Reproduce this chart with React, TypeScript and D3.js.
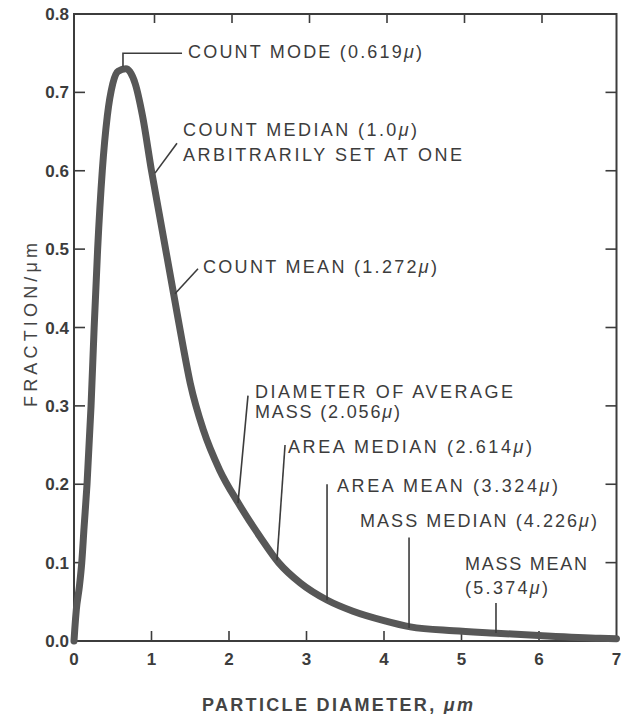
import React, { useRef, useEffect } from 'react';
import * as d3 from 'd3';

// curve: particle diameter (um) vs fraction/um
const diameters = [0, 0.01, 0.03, 0.07, 0.1, 0.13, 0.168, 0.22, 0.26, 0.305, 0.365, 0.43, 0.5, 0.57, 0.67, 0.79, 0.886, 1.0, 1.1, 1.2, 1.3, 1.4, 1.5, 1.67, 1.88, 2.12, 2.4, 2.64, 2.92, 3.27, 3.6, 4.0, 4.34, 4.9, 5.45, 6.0, 6.79, 7.0];
const fractions = [0, 0.015, 0.04, 0.07, 0.1, 0.145, 0.2, 0.3, 0.4, 0.5, 0.6, 0.67, 0.711, 0.727, 0.73, 0.711, 0.669, 0.6, 0.545, 0.49, 0.435, 0.38, 0.329, 0.269, 0.218, 0.176, 0.133, 0.1, 0.074, 0.052, 0.038, 0.026, 0.018, 0.013, 0.01, 0.007, 0.0035, 0.003];

const xTicks = [0, 1, 2, 3, 4, 5, 6, 7];
const yTicks = [0, 0.1, 0.2, 0.3, 0.4, 0.5, 0.6, 0.7, 0.8];

// annotation labels: text before mu, mu, text after
const noteLines = [
  ['COUNT MODE (0.619', 'μ', ')'],
  ['COUNT MEDIAN (1.0', 'μ', ')'],
  ['ARBITRARILY SET AT ONE', '', ''],
  ['COUNT MEAN (1.272', 'μ', ')'],
  ['DIAMETER OF AVERAGE', '', ''],
  ['MASS (2.056', 'μ', ')'],
  ['AREA MEDIAN (2.614', 'μ', ')'],
  ['AREA MEAN (3.324', 'μ', ')'],
  ['MASS MEDIAN (4.226', 'μ', ')'],
  ['MASS MEAN', '', ''],
  ['(5.374', 'μ', ')'],
];
// pointer: curve point then end point(s), data units
const pointers = [
  [0.632, 0.733, 0.632, 0.75, 1.394, 0.75],
  [1.045, 0.597, 1.329, 0.635],
  [1.303, 0.443, 1.6, 0.475],
  [2.116, 0.176, 2.245, 0.313],
  [2.619, 0.103, 2.723, 0.25],
  [3.265, 0.052, 3.265, 0.2],
  [4.323, 0.0166, 4.323, 0.132],
  [5.445, 0.0102, 5.445, 0.0485],
];

// label layout in px: start x, centre y, width
const noteLayout = [
  [188, 52, 234],
  [183, 130, 234],
  [183, 155, 279],
  [203, 267, 234],
  [255, 392, 258],
  [255, 412, 145],
  [288, 447, 244],
  [337, 486, 221],
  [360, 521, 237],
  [465, 564, 122],
  [465, 588, 83],
];

const W = 630;
const H = 714;
const ink = '#3c3c3c';
const font = 'Liberation Sans, Arial, sans-serif';

export default function App() {
  const svgRef = useRef(null);

  useEffect(() => {
    const svg = d3.select(svgRef.current);
    svg.selectAll('*').remove();

    const x = d3.scaleLinear().domain([0, 7]).range([74, 616.5]);
    const y = d3.scaleLinear().domain([0, 0.8]).range([641, 14]);

    // frame
    svg.append('rect')
      .attr('x', x(0)).attr('y', y(0.8))
      .attr('width', x(7) - x(0)).attr('height', y(0) - y(0.8))
      .attr('fill', 'none').attr('stroke', ink).attr('stroke-width', 2);

    // inward ticks on all sides
    const inner = xTicks.slice(1, -1);
    const innerY = yTicks.slice(1, -1);
    svg.append('g').selectAll('line').data(inner).join('line')
      .attr('x1', (d) => x(d)).attr('x2', (d) => x(d))
      .attr('y1', y(0)).attr('y2', y(0) - 10)
      .attr('stroke', ink).attr('stroke-width', 1.6);
    svg.append('g').selectAll('line').data(inner).join('line')
      .attr('x1', (d) => x(d) + 3).attr('x2', (d) => x(d) + 3)
      .attr('y1', y(0.8)).attr('y2', y(0.8) + 9)
      .attr('stroke', ink).attr('stroke-width', 1.6);
    svg.append('g').selectAll('line').data(innerY).join('line')
      .attr('x1', x(0)).attr('x2', x(0) + 11)
      .attr('y1', (d) => y(d)).attr('y2', (d) => y(d))
      .attr('stroke', ink).attr('stroke-width', 1.6);
    svg.append('g').selectAll('line').data(innerY).join('line')
      .attr('x1', x(7)).attr('x2', x(7) - 11)
      .attr('y1', (d) => y(d)).attr('y2', (d) => y(d))
      .attr('stroke', ink).attr('stroke-width', 1.6);

    // tick labels
    svg.append('g').selectAll('text').data(yTicks).join('text')
      .attr('x', 69).attr('y', (d) => y(d)).attr('dy', '0.36em')
      .attr('text-anchor', 'end')
      .attr('font-family', font)
      .attr('font-size', 17).attr('font-weight', 'bold').attr('fill', ink)
      .text((d) => d.toFixed(1));
    svg.append('g').selectAll('text').data(xTicks).join('text')
      .attr('x', (d) => x(d)).attr('y', 665)
      .attr('text-anchor', 'middle')
      .attr('font-family', font)
      .attr('font-size', 17).attr('font-weight', 'bold').attr('fill', ink)
      .text((d) => d);

    // curve
    const pts = diameters.map((d, i) => [d, fractions[i]]);
    const line = d3.line().x((d) => x(d[0])).y((d) => y(d[1])).curve(d3.curveMonotoneX);
    svg.append('path').datum(pts)
      .attr('d', line)
      .attr('fill', 'none').attr('stroke', '#575757')
      .attr('stroke-width', 7).attr('stroke-linecap', 'round').attr('stroke-linejoin', 'round');

    // pointers
    svg.append('g').selectAll('polyline').data(pointers).join('polyline')
      .attr('points', (p) => {
        const out = [];
        for (let i = 0; i < p.length; i += 2) out.push(`${x(p[i])},${y(p[i + 1])}`);
        return out.join(' ');
      })
      .attr('fill', 'none').attr('stroke', ink).attr('stroke-width', 1.6);

    // labels
    const notes = svg.append('g')
      .attr('font-family', font)
      .attr('font-size', 18).attr('fill', ink);
    noteLines.forEach((ln, i) => {
      const [lx, ly, lw] = noteLayout[i];
      const t = notes.append('text')
        .attr('x', lx).attr('y', ly).attr('dy', '0.36em')
        .attr('textLength', lw).attr('lengthAdjust', 'spacing');
      t.append('tspan').text(ln[0]);
      if (ln[1]) t.append('tspan').attr('font-style', 'italic').text(ln[1]);
      if (ln[2]) t.append('tspan').text(ln[2]);
    });

    // axis titles
    const xt = svg.append('text')
      .attr('x', 202).attr('y', 705).attr('dy', '0.36em')
      .attr('textLength', 271).attr('lengthAdjust', 'spacing')
      .attr('font-family', font)
      .attr('font-size', 18).attr('font-weight', 'bold').attr('fill', '#444');
    xt.append('tspan').text('PARTICLE DIAMETER, ');
    xt.append('tspan').attr('font-style', 'italic').text('μm');

    svg.append('text')
      .attr('transform', 'translate(31,407) rotate(-90)')
      .attr('x', 0).attr('y', 0).attr('dy', '0.36em')
      .attr('textLength', 164).attr('lengthAdjust', 'spacing')
      .attr('font-family', font)
      .attr('font-size', 18).attr('fill', '#444')
      .text('FRACTION/μm');
  }, []);

  return (
    <svg
      ref={svgRef}
      width={W}
      height={H}
      style={{ position: 'absolute', left: 0, top: 0, background: '#fff' }}
    />
  );
}
